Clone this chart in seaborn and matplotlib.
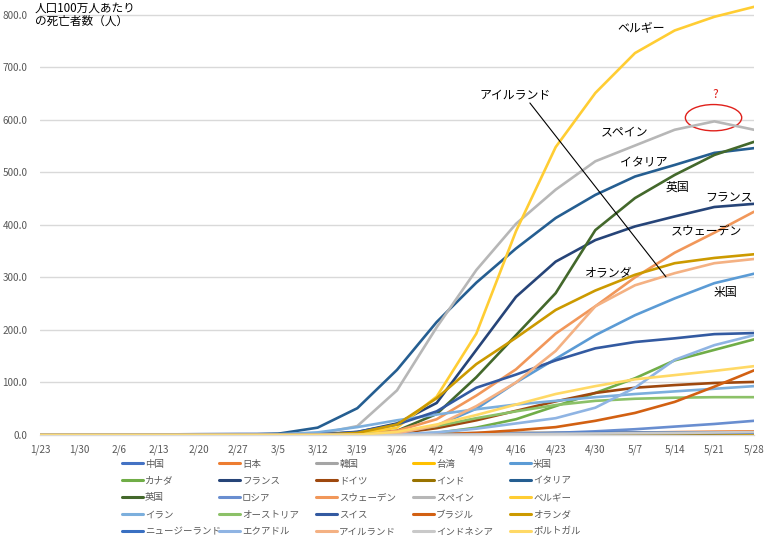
import numpy as np
import pandas as pd
import matplotlib
matplotlib.use("Agg")
import matplotlib.pyplot as plt
from matplotlib.patches import Ellipse
from matplotlib.lines import Line2D
import seaborn as sns

dates = ["1/23", "1/30", "2/6", "2/13", "2/20", "2/27", "3/5", "3/12", "3/19", "3/26",
         "4/2", "4/9", "4/16", "4/23", "4/30", "5/7", "5/14", "5/21", "5/28"]

countries = ["中国", "日本", "韓国", "台湾", "米国",
             "カナダ", "フランス", "ドイツ", "インド", "イタリア",
             "英国", "ロシア", "スウェーデン", "スペイン", "ベルギー",
             "イラン", "オーストリア", "スイス", "ブラジル", "オランダ",
             "ニュージーランド", "エクアドル", "アイルランド", "インドネシア", "ポルトガル"]

colors = ["#4472C4", "#ED7D31", "#A5A5A5", "#FFC000", "#5B9BD5",
          "#70AD47", "#264478", "#9E480E", "#997300", "#255E91",
          "#43682B", "#698ED0", "#F1975A", "#B7B7B7", "#FFCD33",
          "#7CAFDD", "#8CC168", "#335AA1", "#D26012", "#CC9A00",
          "#3A70C2", "#8FB4E3", "#F4B183", "#C9C9C9", "#FFD966"]

china       = [0.01, 0.12, 0.45, 1.0, 1.6, 2.0, 2.15, 2.26, 2.3, 2.36, 2.4, 2.4, 3.3, 3.3, 3.3, 3.3, 3.3, 3.3, 3.3]
japan       = [0, 0, 0, 0, 0, 0.01, 0.05, 0.1, 0.26, 0.36, 0.5, 0.75, 1.2, 2.4, 3.4, 4.6, 5.5, 6.3, 6.9]
korea       = [0, 0, 0, 0, 0.02, 0.25, 0.7, 1.3, 1.8, 2.5, 3.3, 4.0, 4.4, 4.7, 4.8, 4.9, 5.0, 5.1, 5.2]
taiwan      = [0, 0, 0, 0.04, 0.04, 0.04, 0.04, 0.04, 0.04, 0.08, 0.2, 0.2, 0.25, 0.25, 0.25, 0.25, 0.29, 0.29, 0.29]
usa         = [0, 0, 0, 0, 0, 0, 0.03, 0.1, 0.5, 3.5, 18, 50, 100, 145, 190, 228, 260, 289, 307]
canada      = [0, 0, 0, 0, 0, 0, 0, 0.03, 0.3, 1, 4, 14, 30, 55, 80, 108, 142, 162, 182]
france      = [0, 0, 0, 0, 0, 0.03, 0.1, 0.7, 5.6, 22, 61, 162, 263, 330, 371, 397, 416, 434, 440]
germany     = [0, 0, 0, 0, 0, 0, 0, 0.1, 0.5, 3, 13, 28, 46, 64, 80, 90, 95, 99, 101]
india       = [0, 0, 0, 0, 0, 0, 0, 0, 0.003, 0.01, 0.04, 0.15, 0.3, 0.5, 0.8, 1.3, 1.9, 2.6, 3.4]
italy       = [0, 0, 0, 0, 0.02, 0.3, 2.4, 14, 51, 124, 215, 290, 355, 413, 457, 492, 514, 537, 546]
uk          = [0, 0, 0, 0, 0, 0, 0, 0.1, 2, 8, 40, 110, 190, 270, 390, 451, 495, 533, 558]
russia      = [0, 0, 0, 0, 0, 0, 0, 0, 0, 0, 0.1, 0.5, 2, 4, 7, 11, 16, 21, 27]
sweden      = [0, 0, 0, 0, 0, 0, 0, 0.1, 1, 8, 30, 75, 125, 193, 245, 300, 347, 385, 425]
spain       = [0, 0, 0, 0, 0, 0, 0.02, 1.8, 17, 85, 205, 314, 402, 467, 521, 551, 581, 597, 581]
belgium     = [0, 0, 0, 0, 0, 0, 0, 0.3, 2, 14, 73, 193, 388, 548, 651, 727, 770, 796, 815]
iran        = [0, 0, 0, 0, 0, 0.4, 1.3, 5, 15, 28, 39, 49, 58, 65, 72, 78, 83, 88, 93]
austria     = [0, 0, 0, 0, 0, 0, 0, 0.1, 0.6, 5, 17, 32, 45, 57, 65, 69, 71, 72, 72]
switzerland = [0, 0, 0, 0, 0, 0, 0.1, 1, 6, 20, 45, 90, 115, 142, 165, 177, 184, 192, 194]
brazil      = [0, 0, 0, 0, 0, 0, 0, 0, 0, 0, 1, 4, 9, 15, 27, 42, 63, 92, 123]
netherlands = [0, 0, 0, 0, 0, 0, 0, 0.3, 4, 20, 70, 135, 185, 238, 275, 305, 327, 337, 344]
newzealand  = [0, 0, 0, 0, 0, 0, 0, 0, 0, 0, 0.2, 0.8, 1.8, 3.5, 3.9, 4.3, 4.3, 4.3, 4.5]
ecuador     = [0, 0, 0, 0, 0, 0, 0, 0, 0.2, 1.5, 5, 12, 22, 32, 52, 90, 143, 171, 190]
ireland     = [0, 0, 0, 0, 0, 0, 0, 0.2, 0.6, 3, 18, 55, 100, 160, 245, 285, 308, 327, 335]
indonesia   = [0, 0, 0, 0, 0, 0, 0, 0, 0, 0.2, 0.6, 1.0, 1.8, 2.4, 2.9, 3.4, 3.9, 4.7, 5.5]
portugal    = [0, 0, 0, 0, 0, 0, 0, 0, 0.3, 6, 20, 38, 58, 78, 93, 106, 114, 122, 131]

series = [china, japan, korea, taiwan, usa, canada, france, germany, india, italy,
          uk, russia, sweden, spain, belgium, iran, austria, switzerland, brazil, netherlands,
          newzealand, ecuador, ireland, indonesia, portugal]

rows = []
for name, vals in zip(countries, series):
    for i, (d, v) in enumerate(zip(dates, vals)):
        rows.append({"country": name, "idx": i, "date": d, "value": v})
df = pd.DataFrame(rows)

sns.set_theme(style="white")
plt.rcParams['font.family'] = ['Noto Sans CJK JP', 'DejaVu Sans']

fig = plt.figure(figsize=(7.7, 5.35), dpi=100)
ax = fig.add_axes([40 / 770, 1 - 435 / 535, (754 - 40) / 770, 435 / 535])

palette = dict(zip(countries, colors))
sns.lineplot(data=df, x="idx", y="value", hue="country", hue_order=countries,
             palette=palette, linewidth=1.9, ax=ax, legend=False, sort=True)

ax.set_xlim(0, len(dates) - 1)
ax.set_ylim(0, 828)
ax.set_yticks(np.arange(0, 801, 100))
ax.set_yticklabels([f"{v:.1f}" for v in np.arange(0, 801, 100)])
ax.set_xticks(range(len(dates)))
ax.set_xticklabels(dates)
ax.set_xlabel("")
ax.set_ylabel("")
ax.yaxis.grid(True, color="#D9D9D9", linewidth=1.0)
ax.xaxis.grid(False)
ax.set_axisbelow(True)
for s in ["top", "right", "left"]:
    ax.spines[s].set_visible(False)
ax.spines["bottom"].set_color("#D9D9D9")
ax.spines["bottom"].set_linewidth(1.0)
ax.tick_params(axis="y", length=0, pad=9, labelsize=7.2, labelcolor="#595959")
ax.tick_params(axis="x", length=4, width=0.8, color="#D9D9D9", direction="out",
               pad=3, labelsize=7.2, labelcolor="#595959")
ax.set_facecolor("white")

# title and annotations
fig.text(35 / 770, 1 - 2 / 535, "人口100万人あたり\nの死亡者数（人）", ha="left", va="top",
         fontsize=8.4, color="black", linespacing=1.0)
lab = dict(fontsize=8.6, color="black", va="center", ha="left")
ax.text(14.55, 775, "ベルギー", **lab)
ax.text(11.09, 648, "アイルランド", **lab)
ax.text(14.14, 575, "スペイン", **lab)
ax.text(14.62, 518, "イタリア", **lab)
ax.text(15.76, 472, "英国", **lab)
ax.text(16.76, 451, "フランス", **lab)
ax.text(15.9, 387, "スウェーデン", **lab)
ax.text(13.74, 309, "オランダ", **lab)
ax.text(16.97, 272, "米国", **lab)
ax.plot([12.35, 15.78], [632, 301], color="black", linewidth=0.8)
ax.add_patch(Ellipse((16.98, 604), width=1.42, height=50, fill=False,
                     edgecolor="#E0201B", linewidth=1.0))
ax.text(17.03, 648, "?", color="#E0201B", fontsize=8.6, ha="center", va="center")

# legend: 5 columns placed individually, row-major order
handles = [Line2D([0], [0], color=c, linewidth=2.2) for c in colors]
col_x = [122, 219, 316, 413, 510]
for j in range(5):
    h = handles[j::5]
    l = countries[j::5]
    leg = fig.legend(h, l, loc="upper left", bbox_to_anchor=(col_x[j] / 770, 1 - 459.5 / 535),
                     frameon=False, fontsize=6.8, handlelength=2.2, handletextpad=0.25,
                     labelspacing=0.84, borderpad=0, borderaxespad=0)
    for t in leg.get_texts():
        t.set_color("#595959")

fig.savefig("out.png", dpi=100)
